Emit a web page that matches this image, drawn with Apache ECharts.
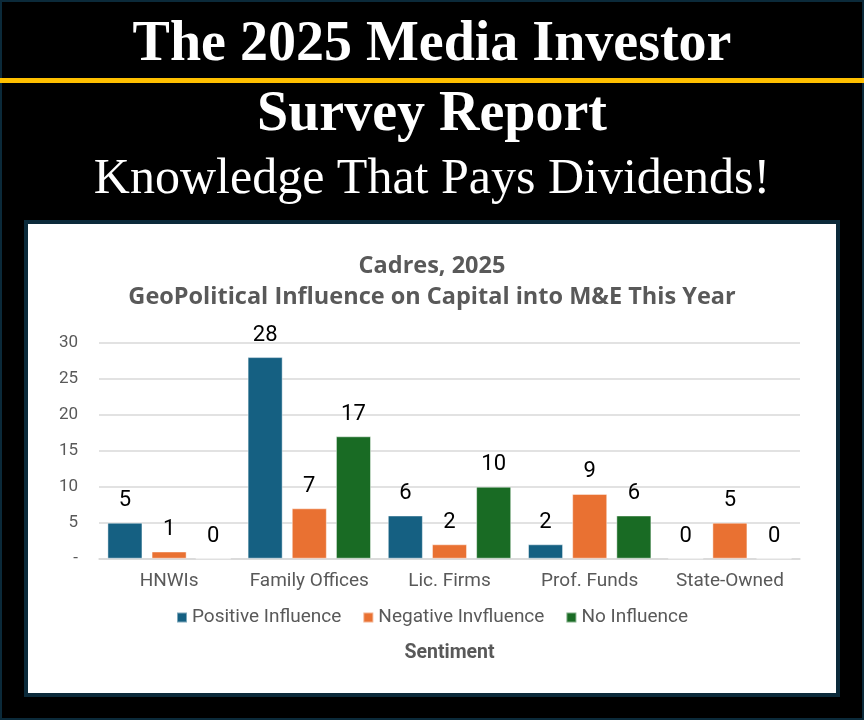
<!DOCTYPE html>
<html>
<head>
<meta charset="utf-8">
<script src="https://cdn.jsdelivr.net/npm/echarts@6/dist/echarts.min.js"></script>
<style>
html,body{margin:0;padding:0;background:#000;}
#chart{width:864px;height:720px;}
</style>
</head>
<body>
<div id="chart"></div>
<script>
var categories = ['HNWIs', 'Family Offices', 'Lic. Firms', 'Prof. Funds', 'State-Owned'];
var positiveInfluence = [5, 28, 6, 2, 0];
var negativeInfluence = [1, 7, 2, 9, 5];
var noInfluence = [0, 17, 10, 6, 0];
var seriesNames = ['Positive Influence', 'Negative Invfluence', 'No Influence'];
var headline1 = 'The 2025 Media Investor';
var headline2 = 'Survey Report';
var headline3 = 'Knowledge That Pays Dividends!';
var chartTitle1 = 'Cadres, 2025';
var chartTitle2 = 'GeoPolitical Influence on Capital into M&E This Year';
var axisName = 'Sentiment';

var NAVY = '#0b2a3a';
var GRAY = '#595959';
var SANS = 'Roboto, "Liberation Sans", sans-serif';
var TSANS = '"Open Sans", Roboto, sans-serif';
var SERIF = '"Liberation Serif", "DejaVu Serif", serif';

var chart = echarts.init(document.getElementById('chart'));

function barSeries(name, data, color) {
  return {
    name: name,
    type: 'bar',
    data: data,
    barGap: '26%',
    barCategoryGap: '12%',
    itemStyle: { color: color, borderColor: 'rgba(255,255,255,0.45)', borderWidth: 1 },
    label: {
      show: true, position: 'top', distance: 11,
      color: '#000', fontSize: 22, fontFamily: SANS
    }
  };
}

var option = {
  backgroundColor: '#000',
  animation: false,
  graphic: [
    { type: 'rect', z: -10, shape: { x: 0, y: 0, width: 864, height: 720 }, style: { fill: 'none', stroke: NAVY, lineWidth: 4 } },
    { type: 'rect', z: -9, shape: { x: 0, y: 78, width: 864, height: 5 }, style: { fill: '#FFC000' } },
    { type: 'rect', z: -9, shape: { x: 24, y: 220, width: 816, height: 477 }, style: { fill: NAVY } },
    { type: 'rect', z: -8, shape: { x: 28, y: 224, width: 808, height: 469 }, style: { fill: '#ffffff' } },
    { type: 'text', x: 432, y: 46, style: { text: headline1, align: 'center', verticalAlign: 'middle', fill: '#fff', font: 'bold 56px ' + SERIF } },
    { type: 'text', x: 432, y: 116, style: { text: headline2, align: 'center', verticalAlign: 'middle', fill: '#fff', font: 'bold 56px ' + SERIF } },
    { type: 'text', x: 432, y: 180, style: { text: headline3, align: 'center', verticalAlign: 'middle', fill: '#fff', font: '50px ' + SERIF } },
    { type: 'text', x: 432, y: 266, style: { text: chartTitle1, align: 'center', verticalAlign: 'middle', fill: GRAY, font: 'bold 23.5px ' + TSANS } },
    { type: 'text', x: 432, y: 297, style: { text: chartTitle2, align: 'center', verticalAlign: 'middle', fill: GRAY, font: 'bold 23.5px ' + TSANS } }
  ],
  grid: { left: 99, right: 64, top: 342.7, bottom: 161.3, containLabel: false },
  legend: {
    data: seriesNames,
    left: 'center',
    top: 603,
    icon: 'rect',
    itemWidth: 10,
    itemHeight: 10,
    itemGap: 21,
    textStyle: { color: GRAY, fontSize: 19, fontFamily: SANS }
  },
  xAxis: {
    type: 'category',
    data: categories,
    name: axisName,
    nameLocation: 'middle',
    nameGap: 84,
    nameTextStyle: { color: GRAY, fontSize: 19.5, fontWeight: 'bold', fontFamily: SANS },
    axisLine: { lineStyle: { color: '#d9d9d9', width: 1.5 } },
    axisTick: { show: false },
    axisLabel: { color: GRAY, fontSize: 19, fontFamily: SANS, margin: 13, interval: 0 }
  },
  yAxis: {
    type: 'value',
    min: 0,
    max: 30,
    interval: 5,
    axisLine: { show: false },
    axisTick: { show: false },
    splitLine: { lineStyle: { color: '#d9d9d9', width: 1.5 } },
    axisLabel: {
      color: GRAY, fontSize: 17, fontFamily: SANS, margin: 21,
      formatter: function (v) { return v === 0 ? '-' : String(v); }
    }
  },
  series: [
    barSeries(seriesNames[0], positiveInfluence, '#156082'),
    barSeries(seriesNames[1], negativeInfluence, '#E97132'),
    barSeries(seriesNames[2], noInfluence, '#196B24')
  ]
};
chart.setOption(option);
</script>
</body>
</html>
